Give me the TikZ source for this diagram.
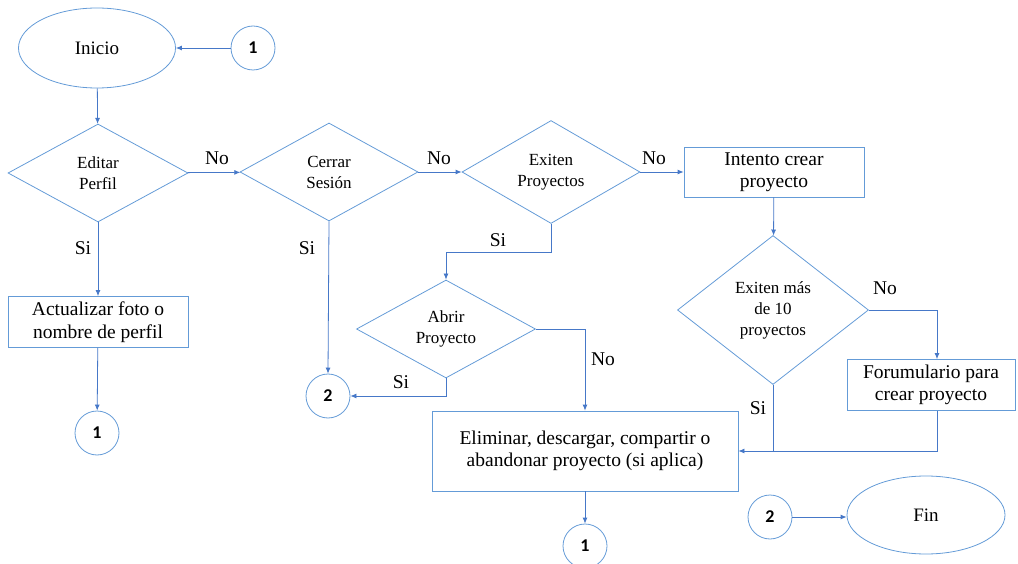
\documentclass[tikz,border=0pt]{standalone}
\usepackage{fontspec}
\setmainfont{Liberation Serif}
\newfontfamily\digitfont{Carlito}
\usetikzlibrary{shapes.geometric, arrows.meta}

\definecolor{shapeblue}{RGB}{100,155,215}
\definecolor{lineblue}{RGB}{70,120,200}

\begin{document}
\begin{tikzpicture}[x=1pt,y=-1pt,
  line/.style={draw=lineblue,line width=0.8pt},
  arr/.style={line,-{Latex[length=6pt,width=5pt]}},
  decision/.style={diamond,draw=shapeblue,line width=0.8pt,inner sep=0pt,align=center,font=\rmfamily\fontsize{17}{21}\selectfont},
  process/.style={rectangle,draw=shapeblue,line width=0.8pt,inner sep=0pt,align=center,font=\rmfamily\fontsize{19.5}{22.5}\selectfont},
  terminal/.style={ellipse,draw=shapeblue,line width=0.8pt,inner sep=0pt,font=\rmfamily\fontsize{19}{23}\selectfont},
  connector/.style={circle,draw=shapeblue,line width=0.8pt,inner sep=0pt,minimum size=44pt,font={\digitfont\fontsize{18}{20}\selectfont}},
  answer/.style={inner sep=0pt,font=\rmfamily\fontsize{19.5}{23}\selectfont}]
\useasboundingbox (0,0) rectangle (1018,564);

\node[terminal,minimum width=157pt,minimum height=80pt] (inicio) at (97,48) {Inicio};
\node[connector] (onea) at (253,48) {\textbf{1}};
\node[decision,minimum width=180pt,minimum height=98pt] (editar) at (98,173) {Editar\\Perfil};
\node[decision,minimum width=178pt,minimum height=98pt] (cerrar) at (329,172) {Cerrar\\Sesión};
\node[decision,minimum width=178pt,minimum height=98pt] (existen) at (551,172) {Exiten\\Proyectos};
\node[process,minimum width=180pt,minimum height=50pt] (intento) at (774,172) {Intento crear\\proyecto};
\node[decision,minimum width=191pt,minimum height=149pt] (mas) at (773,310) {Exiten más\\de 10\\proyectos};
\node[process,minimum width=168pt,minimum height=51pt] (form) at (931,385) {Forumulario para\\crear proyecto};
\node[decision,minimum width=179pt,minimum height=98pt] (abrir) at (446,329) {Abrir\\Proyecto};
\node[process,minimum width=306pt,minimum height=80pt] (eliminar) at (585,451) {Eliminar, descargar, compartir o\\abandonar proyecto (si aplica)};
\node[process,minimum width=180pt,minimum height=51pt] (actualizar) at (98,322) {Actualizar foto o\\nombre de perfil};
\node[connector] (oneb) at (97,433) {\textbf{1}};
\node[connector] (twoa) at (328,396) {\textbf{2}};
\node[connector] (onec) at (585,546) {\textbf{1}};
\node[connector] (twob) at (770,517) {\textbf{2}};
\node[terminal,minimum width=158pt,minimum height=78pt] (fin) at (926,515) {Fin};

\node[answer] (noa) at (217,158) {No};
\node[answer] (nob) at (439,158) {No};
\node[answer] (noc) at (654,158) {No};
\node[answer] (nod) at (885,288) {No};
\node[answer] (noe) at (603,359) {No};
\node[answer] (sia) at (83,248) {Si};
\node[answer] (sib) at (307,248) {Si};
\node[answer] (sic) at (498,240) {Si};
\node[answer] (sid) at (401,382) {Si};
\node[answer] (sie) at (758,408) {Si};

\draw[arr] (onea.west) -- (inicio.east);
\draw[arr] (inicio) -- (editar);
\draw[arr] (editar) -- (cerrar);
\draw[arr] (cerrar) -- (existen);
\draw[arr] (existen) -- (intento);
\draw[arr] (intento) -- (mas);
\draw[arr] (mas.east) -| ([xshift=6pt]form.north);
\draw[arr] ([xshift=6pt]form.south) |- (eliminar.east);
\draw[line] (mas.south) -- (mas.south |- eliminar.east);
\draw[arr] (existen.south) -- ++(0,29) -| (abrir.north);
\draw[arr] (abrir.east) -| (eliminar.north);
\draw[arr] (abrir.south) |- (twoa.east);
\draw[arr] (cerrar.south) -- (twoa.north);
\draw[arr] (editar) -- (actualizar);
\draw[arr] (actualizar) -- (oneb);
\draw[arr] (eliminar) -- (onec);
\draw[arr] (twob.east) -- (twob.east -| fin.west);
\end{tikzpicture}
\end{document}
